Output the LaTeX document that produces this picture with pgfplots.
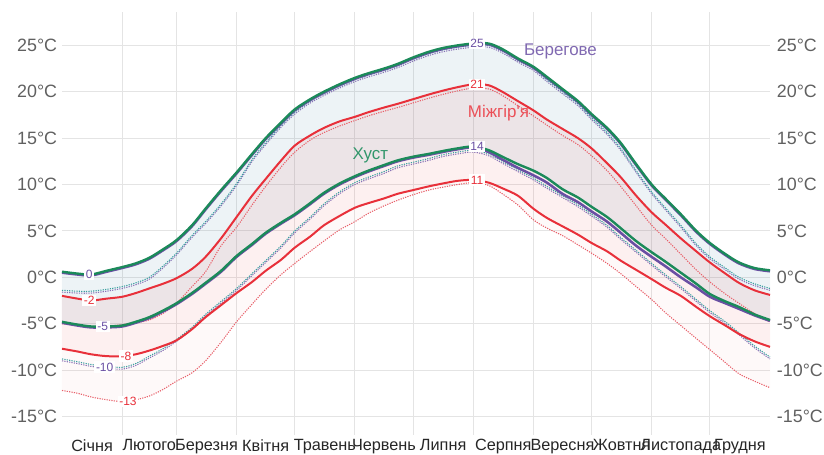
\documentclass[border=0pt]{standalone}
\usepackage{fontspec}
\setmainfont{Liberation Sans}
\usepackage{pgfplots}
\pgfplotsset{compat=1.18}
\usepackage{pgfplotstable}
\usepgfplotslibrary{fillbetween}

\definecolor{kgreen}{HTML}{1B8A5A}
\definecolor{bpurple}{HTML}{6A4FA3}
\definecolor{mred}{HTML}{E8303A}
\definecolor{kdot}{HTML}{3A9FA0}
\definecolor{mdot}{HTML}{E8606A}
\definecolor{tickgray}{HTML}{606060}
\definecolor{gridgray}{HTML}{E4E4E4}
\definecolor{bandblue}{RGB}{75,135,165}
\definecolor{bandred}{RGB}{230,60,60}

\pgfplotstableread{
day kh bh mh kl bl ml khd bhd mhd kld bld mld
0 0.6 0.5 -2.0 -4.8 -4.9 -7.7 -1.4 -1.6 -5.0 -8.8 -9.0 -12.2
8 0.4 0.3 -2.3 -5.1 -5.2 -8.0 -1.5 -1.7 -5.2 -9.1 -9.3 -12.5
15 0.3 0.2 -2.5 -5.3 -5.4 -8.3 -1.5 -1.7 -5.3 -9.4 -9.6 -12.9
23 0.7 0.6 -2.3 -5.3 -5.4 -8.5 -1.3 -1.5 -5.3 -9.6 -9.8 -13.2
31 1.1 1.0 -2.1 -5.2 -5.3 -8.5 -1.0 -1.2 -5.1 -9.7 -9.9 -13.4
38 1.5 1.4 -1.7 -4.8 -4.9 -8.3 -0.6 -0.8 -4.9 -9.3 -9.5 -13.2
45 2.1 2.0 -1.2 -4.3 -4.4 -7.9 0.0 -0.2 -4.6 -8.5 -8.7 -12.8
52 3.0 2.9 -0.7 -3.6 -3.7 -7.4 1.2 1.0 -3.9 -7.7 -7.9 -12.1
59 4.0 3.9 -0.1 -2.8 -2.9 -6.8 2.6 2.4 -2.8 -6.7 -6.9 -11.2
67 5.6 5.5 0.9 -1.7 -1.8 -5.6 4.5 4.3 -1.0 -5.4 -5.6 -10.3
74 7.4 7.3 2.2 -0.6 -0.7 -4.3 6.0 5.8 0.6 -4.0 -4.2 -9.0
82 9.4 9.3 4.2 0.7 0.6 -3.0 7.9 7.7 3.4 -2.6 -2.8 -7.0
90 11.3 11.2 6.5 2.3 2.2 -1.7 10.1 9.9 5.4 -1.2 -1.4 -4.8
98 13.3 13.2 8.8 3.6 3.5 -0.5 12.7 12.5 7.8 0.4 0.2 -2.9
105 15.0 14.9 10.6 4.8 4.7 0.7 14.5 14.3 9.8 1.8 1.6 -1.3
113 16.7 16.6 12.6 5.9 5.8 1.9 16.4 16.2 11.9 3.4 3.2 0.3
120 18.1 18.0 14.2 6.8 6.7 3.2 17.8 17.6 13.5 5.0 4.8 1.5
128 19.2 19.1 15.3 8.0 7.9 4.4 19.0 18.8 14.8 6.5 6.3 2.8
135 20.0 19.9 16.1 9.1 9.0 5.6 19.8 19.6 15.6 7.9 7.7 3.9
143 20.8 20.7 16.8 10.1 10.0 6.6 20.6 20.4 16.3 9.2 9.0 5.1
151 21.5 21.4 17.3 10.9 10.8 7.5 21.3 21.1 16.9 10.2 10.0 6.0
158 22.0 21.9 17.8 11.5 11.4 8.0 21.8 21.6 17.4 10.8 10.6 6.9
166 22.5 22.4 18.3 12.1 12.0 8.5 22.3 22.1 17.9 11.4 11.2 7.7
173 23.0 22.9 18.7 12.6 12.5 9.0 22.8 22.6 18.3 12.0 11.8 8.3
181 23.7 23.6 19.2 13.0 12.9 9.4 23.5 23.3 18.8 12.4 12.2 8.9
189 24.3 24.2 19.7 13.3 13.2 9.8 24.1 23.9 19.3 12.8 12.6 9.4
196 24.7 24.6 20.1 13.6 13.5 10.1 24.5 24.3 19.7 13.2 13.0 9.7
204 25.0 24.9 20.5 13.9 13.8 10.4 24.8 24.6 20.1 13.5 13.3 10.0
212 25.2 25.1 20.8 14.1 14.0 10.5 25.0 24.8 20.4 13.7 13.5 10.2
220 25.2 25.1 20.7 13.7 13.5 10.2 25.0 24.8 20.3 13.3 13.1 9.9
227 24.6 24.5 20.0 13.0 12.7 9.6 24.4 24.2 19.6 12.5 12.3 9.0
235 23.6 23.5 19.0 12.2 11.8 8.8 23.4 23.2 18.5 11.6 11.4 7.8
243 22.7 22.6 18.0 11.5 11.0 7.4 22.5 22.3 17.4 10.7 10.5 6.2
250 21.6 21.5 17.0 10.7 10.2 6.4 21.3 21.1 16.4 9.8 9.6 5.3
258 20.3 20.2 16.0 9.5 9.0 5.5 20.0 19.8 15.3 8.8 8.6 4.5
266 19.0 18.9 15.0 8.6 8.1 4.6 18.7 18.5 14.3 7.8 7.6 3.5
273 17.6 17.5 13.9 7.6 7.1 3.7 17.2 17.0 13.1 6.8 6.6 2.6
281 16.1 16.0 12.3 6.5 6.0 2.8 15.6 15.4 11.5 5.6 5.4 1.5
288 14.5 14.4 10.8 5.3 4.8 1.8 13.9 13.7 9.8 4.3 4.1 0.4
296 12.2 12.1 8.8 3.9 3.4 0.8 11.5 11.3 7.7 2.9 2.7 -1.0
304 10.0 9.9 7.0 2.7 2.2 -0.2 9.2 9.0 5.6 1.5 1.3 -2.4
311 8.5 8.4 5.7 1.7 1.2 -1.1 7.5 7.3 4.2 0.3 0.1 -3.8
319 6.8 6.7 4.2 0.5 0.0 -2.0 5.6 5.4 2.5 -1.0 -1.2 -5.2
327 5.0 4.9 2.8 -0.7 -1.1 -3.2 3.6 3.4 0.8 -2.4 -2.6 -6.6
334 3.7 3.6 1.6 -1.8 -2.1 -4.2 2.2 2.0 -0.5 -3.6 -3.8 -7.8
342 2.5 2.4 0.4 -2.6 -2.8 -5.2 1.0 0.8 -1.8 -4.8 -5.0 -9.2
349 1.6 1.5 -0.6 -3.2 -3.4 -6.1 0.0 -0.2 -2.8 -6.0 -6.2 -10.4
357 1.0 0.9 -1.4 -4.0 -4.1 -6.9 -0.7 -0.9 -3.9 -7.4 -7.6 -11.2
365 0.75 0.65 -1.9 -4.6 -4.7 -7.5 -1.2 -1.4 -4.8 -8.6 -8.8 -11.9
}\data

\begin{document}
\begin{tikzpicture}
\begin{axis}[
  at={(0,0)}, anchor=south west,
  scale only axis, width=531pt, height=317.25pt,
  xmin=0, xmax=365, ymin=-17, ymax=28.6,
  axis line style={draw=none},
  tick style={draw=none},
  xtick={15.5,45,74.5,105,135.5,166,196.5,227.5,258,288.5,319,349.5},
  xticklabels={Січня,Лютого,Березня,Квітня,Травень,Червень,Липня,Серпня,Вересня,Жовтня,Листопада,Грудня},
  minor xtick={31,59,90,120,151,181,212,243,273,304,334},
  xminorgrids, xmajorgrids=false,
  x grid style={gridgray, line width=0.75pt},
  ytick={-15,-10,-5,0,5,10,15,20,25},
  yticklabels={-15°C,-10°C,-5°C,0°C,5°C,10°C,15°C,20°C,25°C},
  ymajorgrids,
  y grid style={gridgray, line width=0.75pt},
  extra y ticks={0}, extra y tick labels={},
  extra y tick style={grid style={black!30, line width=0.8pt}},
  xticklabel style={font=\fontsize{12.2}{14}\selectfont, text=black!85, anchor=north, inner sep=0pt, yshift=-3pt},
  yticklabel style={font=\fontsize{13.4}{15}\selectfont, text=tickgray, anchor=east, inner sep=0pt, xshift=-3.5pt},
  clip=false,
]
% invisible paths for bands
\addplot[draw=none, smooth, name path=KH] table[x=day,y=kh]{\data};
\addplot[draw=none, smooth, name path=KL] table[x=day,y=kl]{\data};
\addplot[draw=none, smooth, name path=MH] table[x=day,y=mh]{\data};
\addplot[draw=none, smooth, name path=ML] table[x=day,y=ml]{\data};
\addplot[draw=none, smooth, name path=MLD] table[x=day,y=mld]{\data};
\addplot[bandblue, fill opacity=0.1] fill between[of=KH and KL];
\addplot[bandred, fill opacity=0.08] fill between[of=MH and ML];
\addplot[bandred, fill opacity=0.03] fill between[of=ML and MLD];
% dotted lines
\addplot[bpurple!80, line width=0.8pt, dash pattern=on 0.9pt off 0.9pt, smooth] table[x=day,y=bhd]{\data};
\addplot[kdot, line width=0.8pt, dash pattern=on 0.9pt off 0.9pt, smooth] table[x=day,y=khd]{\data};
\addplot[mdot, line width=0.8pt, dash pattern=on 0.9pt off 0.9pt, smooth] table[x=day,y=mhd]{\data};
\addplot[bpurple!80, line width=0.8pt, dash pattern=on 0.9pt off 0.9pt, smooth] table[x=day,y=bld]{\data};
\addplot[kdot, line width=0.8pt, dash pattern=on 0.9pt off 0.9pt, smooth] table[x=day,y=kld]{\data};
\addplot[mdot, line width=0.8pt, dash pattern=on 0.9pt off 0.9pt, smooth] table[x=day,y=mld]{\data};
% solid lines
\addplot[bpurple, line width=1.9pt, smooth] table[x=day,y=bh]{\data};
\addplot[bpurple, line width=1.9pt, smooth] table[x=day,y=bl]{\data};
\addplot[kgreen, line width=1.8pt, smooth] table[x=day,y=kh]{\data};
\addplot[kgreen, line width=1.8pt, smooth] table[x=day,y=kl]{\data};
\addplot[mred, line width=1.5pt, smooth] table[x=day,y=mh]{\data};
\addplot[mred, line width=1.5pt, smooth] table[x=day,y=ml]{\data};
% value labels
\tikzset{vl/.style={font=\fontsize{9}{10}\selectfont, fill=white, inner sep=1.2pt}}
\node[vl, text=bpurple] at (axis cs:214,25.2) {25};
\node[vl, text=mred] at (axis cs:214,20.8) {21};
\node[vl, text=bpurple] at (axis cs:214,14.1) {14};
\node[vl, text=mred] at (axis cs:214,10.5) {11};
\node[vl, text=bpurple] at (axis cs:14,0.3) {0};
\node[vl, text=mred] at (axis cs:14,-2.5) {-2};
\node[vl, text=bpurple] at (axis cs:21,-5.3) {-5};
\node[vl, text=mred] at (axis cs:33,-8.5) {-8};
\node[vl, text=bpurple] at (axis cs:22,-9.7) {-10};
\node[vl, text=mred] at (axis cs:34,-13.4) {-13};
% series names
\node[font=\fontsize{12.7}{15}\selectfont, text=bpurple!85] at (axis cs:257,24.3) {Берегове};
\node[font=\fontsize{12.7}{15}\selectfont, text=mred!85] at (axis cs:225,17.7) {Міжгір\textquotesingle я};
\node[font=\fontsize{12.7}{15}\selectfont, text=kgreen!90!white] at (axis cs:159,13.1) {Хуст};
\end{axis}
\begin{axis}[
  at={(0,0)}, anchor=south west,
  scale only axis, width=531pt, height=317.25pt,
  xmin=0, xmax=365, ymin=-17, ymax=28.6,
  hide x axis,
  axis y line*=right,
  axis line style={draw=none},
  tick style={draw=none},
  ytick={-15,-10,-5,0,5,10,15,20,25},
  yticklabels={-15°C,-10°C,-5°C,0°C,5°C,10°C,15°C,20°C,25°C},
  yticklabel style={font=\fontsize{13.4}{15}\selectfont, text=tickgray, anchor=west, inner sep=0pt, xshift=5pt},
]
\addplot[draw=none] coordinates {(0,0) (365,0)};
\end{axis}
\pgfresetboundingbox
\path[use as bounding box] (-46.5pt,-14.25pt) rectangle (571.5pt,326.25pt);
\end{tikzpicture}
\end{document}
